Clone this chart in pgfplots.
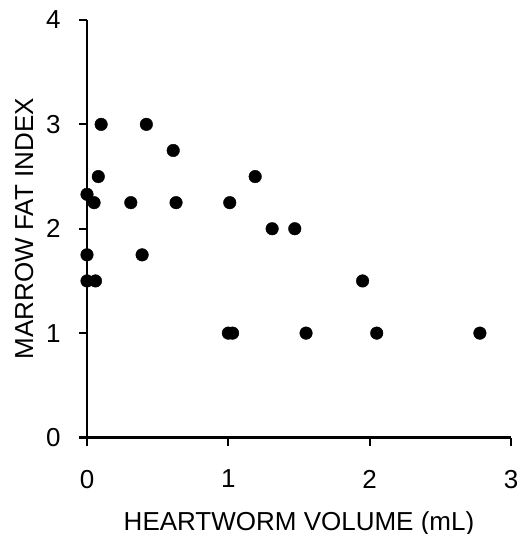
\documentclass[border=0pt]{standalone}
\usepackage{fontspec}
\setmainfont{Liberation Sans}
\usepackage{pgfplots}
\pgfplotsset{compat=1.18}
\begin{document}
\begin{tikzpicture}
\path[use as bounding box] (-87pt,-96.5pt) rectangle (437pt,437.5pt);
\begin{axis}[
  at={(0,0)}, anchor=south west,
  scale only axis, width=424pt, height=417.5pt,
  xmin=0, xmax=3, ymin=0, ymax=4,
  axis lines*=left,
  line width=2.4pt,
  every axis line/.append style={line width=2.4pt},
  every tick/.style={line width=2.2pt, black},
  tick align=outside, major tick length=8pt,
  xtick={0,1,2,3}, ytick={0,1,2,3,4},
  /pgf/number format/assume math mode=true,
  tick label style={font=\fontsize{26}{30}\selectfont},
  label style={font=\fontsize{26}{30}\selectfont},
  xticklabel style={yshift=-20pt},
  yticklabel style={xshift=-14pt},
  xlabel={HEARTWORM VOLUME (mL)},
  ylabel={MARROW FAT INDEX},
  xlabel style={at={(axis description cs:0.5,-0.2216)}, anchor=base},
  ylabel style={at={(axis description cs:-0.1156,0.5)}, anchor=south, rotate=0},
  clip=false,
]
\addplot[only marks, mark=*, mark size=6.3pt, line width=0.4pt, black] coordinates {
(0.10,3) (0.42,3) (0.61,2.75) (0.08,2.5) (1.19,2.5) (0.0,2.33)
(0.05,2.25) (0.31,2.25) (0.63,2.25) (1.01,2.25) (1.31,2) (1.47,2)
(0,1.75) (0.39,1.75) (0,1.5) (0.06,1.5) (1.95,1.5)
(1.0,1) (1.03,1) (1.55,1) (2.05,1) (2.78,1)
};
\end{axis}
\end{tikzpicture}
\end{document}
